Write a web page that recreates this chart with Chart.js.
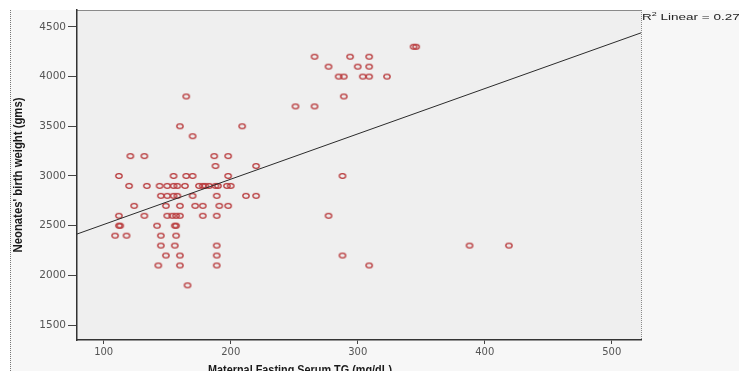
<!DOCTYPE html>
<html><head><meta charset="utf-8">
<script src="https://cdn.jsdelivr.net/npm/chart.js@4.4.0/dist/chart.umd.min.js"></script>
<style>html,body{margin:0;padding:0;background:#fff;}#wrap{width:739px;height:371px;}</style>
</head><body><div id="wrap"><canvas id="c" width="739" height="371"></canvas></div>
<script>
// ---- data ----
const xTicks = [100, 200, 300, 400, 500];
const yTicks = [1500, 2000, 2500, 3000, 3500, 4000, 4500];
const tgValues = [
  344, 346,
  266, 294, 309,
  277, 300, 309,
  285, 289, 304, 309, 323,
  165, 289,
  251, 266,
  160, 209,
  170,
  121, 132, 187, 198,
  188, 220,
  112, 155, 165, 170, 198, 288,
  120, 134, 144, 150, 155, 158, 164, 175, 178, 180, 183, 188, 190, 197, 200,
  145, 150, 155, 158, 170, 189, 212, 220,
  124, 149, 160, 172, 178, 191, 198,
  112, 132, 150, 154, 157, 160, 178, 189, 277,
  112, 113, 142, 156, 157,
  109, 118, 145, 157,
  145, 156, 189, 388, 419,
  149, 160, 189, 288,
  143, 160, 189, 309,
  166
];
const birthWeights = [
  4300, 4300,
  4200, 4200, 4200,
  4100, 4100, 4100,
  4000, 4000, 4000, 4000, 4000,
  3800, 3800,
  3700, 3700,
  3500, 3500,
  3400,
  3200, 3200, 3200, 3200,
  3100, 3100,
  3000, 3000, 3000, 3000, 3000, 3000,
  2900, 2900, 2900, 2900, 2900, 2900, 2900, 2900, 2900, 2900, 2900, 2900, 2900, 2900, 2900,
  2800, 2800, 2800, 2800, 2800, 2800, 2800, 2800,
  2700, 2700, 2700, 2700, 2700, 2700, 2700,
  2600, 2600, 2600, 2600, 2600, 2600, 2600, 2600, 2600,
  2500, 2500, 2500, 2500, 2500,
  2400, 2400, 2400, 2400,
  2300, 2300, 2300, 2300, 2300,
  2200, 2200, 2200, 2200,
  2100, 2100, 2100, 2100,
  1900
];
const fitX = [79, 523];
const fitY = [2416, 4440];
const xTitle = 'Maternal Fasting Serum TG (mg/dL)';
const yTitle = "Neonates' birth weight (gms)";
const r2Value = '0.272';

// ---- ring marker (slightly elliptical, as in the reference) ----
const ring = document.createElement('canvas');
ring.width = 10; ring.height = 8;
(function(){
  const g = ring.getContext('2d');
  g.strokeStyle = '#b83a3c';
  g.lineWidth = 1.3;
  g.beginPath();
  g.ellipse(5, 4, 3.2, 2.3, 0, 0, Math.PI * 2);
  g.stroke();
})();

const frame = {
  id: 'frame',
  beforeDraw(chart) {
    const c = chart.ctx, a = chart.chartArea;
    c.save();
    c.fillStyle = '#ffffff';
    c.fillRect(0, 0, chart.width, chart.height);
    c.fillStyle = '#f7f7f7';
    c.fillRect(10, 10, chart.width - 10, chart.height - 10);
    c.strokeStyle = '#777';
    c.lineWidth = 1;
    c.setLineDash([1, 1]);
    c.beginPath(); c.moveTo(10.5, 10); c.lineTo(10.5, chart.height); c.stroke();
    c.setLineDash([]);
    c.fillStyle = '#efefef';
    c.fillRect(a.left, a.top, a.right - a.left, a.bottom - a.top);
    c.strokeStyle = '#8a8a8a';
    c.beginPath(); c.moveTo(a.left, a.top + 0.5); c.lineTo(a.right, a.top + 0.5); c.stroke();
    c.setLineDash([1, 1]);
    c.beginPath(); c.moveTo(a.right + 0.5, a.top); c.lineTo(a.right + 0.5, a.bottom); c.stroke();
    c.setLineDash([]);
    c.restore();
  },
  afterDraw(chart) {
    const c = chart.ctx, a = chart.chartArea;
    c.save();
    c.fillStyle = '#1a1a1a';
    // x title
    c.font = 'bold 13px "Liberation Sans", Arial, sans-serif';
    let w = c.measureText(xTitle).width;
    c.save();
    c.translate(300, 374);
    c.scale(184 / w, 1);
    c.textAlign = 'center'; c.textBaseline = 'alphabetic';
    c.fillText(xTitle, 0, 0);
    c.restore();
    // y title
    c.font = 'bold 11px "Liberation Sans", Arial, sans-serif';
    w = c.measureText(yTitle).width;
    c.save();
    c.translate(19, 175);
    c.rotate(-Math.PI / 2);
    c.scale(155 / w, 1.15);
    c.textAlign = 'center'; c.textBaseline = 'middle';
    c.fillText(yTitle, 0, 0);
    c.restore();
    // R^2 label
    c.fillStyle = '#222';
    c.save();
    c.translate(a.right + 1, 20);
    c.scale(1.5, 1);
    c.textBaseline = 'alphabetic'; c.textAlign = 'left';
    c.font = '9px "Liberation Sans", Arial, sans-serif';
    c.fillText('R', 0, 0);
    let x = c.measureText('R').width;
    c.font = '6px "Liberation Sans", Arial, sans-serif';
    c.fillText('2', x, -4);
    x += c.measureText('2').width;
    c.font = '9px "Liberation Sans", Arial, sans-serif';
    c.fillText(' Linear = ' + r2Value, x, 0);
    c.restore();
    c.restore();
  }
};

new Chart(document.getElementById('c'), {
  type: 'scatter',
  data: {
    datasets: [
      {
        type: 'line',
        data: fitX.map((x, i) => ({ x: x, y: fitY[i] })),
        borderColor: '#2b2b2b',
        borderWidth: 1,
        pointRadius: 0,
        showLine: true,
        fill: false,
        order: 0
      },
      {
        data: tgValues.map((x, i) => ({ x: x, y: birthWeights[i] })),
        pointStyle: ring,
        pointRadius: 4,
        order: 1
      }
    ]
  },
  options: {
    responsive: false,
    animation: false,
    layout: { padding: { left: 0, top: 10, right: 98, bottom: 0 } },
    plugins: { legend: { display: false }, tooltip: { enabled: false } },
    scales: {
      x: {
        type: 'linear', min: 79, max: 523,
        afterBuildTicks: s => { s.ticks = xTicks.map(v => ({ value: v })); },
        afterFit: s => { s.height = 31; },
        grid: { drawOnChartArea: false, drawTicks: true, tickLength: 4, color: '#444' },
        border: { color: '#333', width: 1.5 },
        ticks: { callback: v => String(v), font: { family: '"DejaVu Sans", sans-serif', size: 10 }, color: '#555', padding: 2, maxRotation: 0 }
      },
      y: {
        type: 'linear', min: 1350, max: 4670,
        afterBuildTicks: s => { s.ticks = yTicks.map(v => ({ value: v })); },
        afterFit: s => { s.width = 77; },
        grid: { drawOnChartArea: false, drawTicks: true, tickLength: 9, color: '#444' },
        border: { color: '#333', width: 1.5 },
        ticks: { callback: v => String(v), font: { family: '"DejaVu Sans", sans-serif', size: 10.5 }, color: '#555', padding: 2 }
      }
    }
  },
  plugins: [frame]
});
</script>
</body></html>
